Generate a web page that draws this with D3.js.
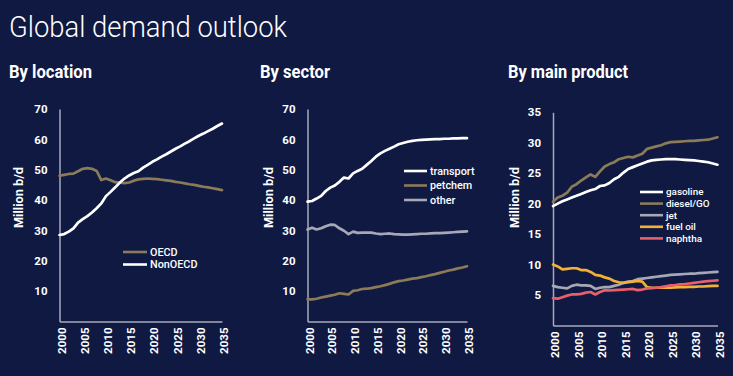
<!DOCTYPE html>
<html>
<head>
<meta charset="utf-8">
<script src="https://cdn.jsdelivr.net/npm/d3@7"></script>
<style>
  html, body { margin: 0; padding: 0; background: #0f1942; }
  svg { display: block; }
  text { font-family: Roboto, "Noto Sans", sans-serif; fill: #ffffff; }
</style>
</head>
<body>
<svg id="chart" width="733" height="376"></svg>
<script>
const years = d3.range(2000, 2036);
const xTickYears = [2000, 2005, 2010, 2015, 2020, 2025, 2030, 2035];

// By location
const oecd = [48.0,48.3,48.6,48.7,49.5,50.3,50.5,50.3,49.6,46.6,47.1,46.5,45.9,45.7,45.6,45.8,46.4,46.8,47.0,47.1,47.0,46.9,46.7,46.5,46.3,46.0,45.8,45.5,45.2,45.0,44.7,44.4,44.2,43.9,43.6,43.3];
const nonOecd = [28.5,28.8,29.6,30.7,32.6,33.7,34.7,35.9,37.3,38.9,41.3,42.7,44.2,45.8,47.1,48.1,48.9,49.5,50.7,51.6,52.6,53.4,54.3,55.1,56.0,56.9,57.7,58.6,59.4,60.3,61.2,61.9,62.7,63.5,64.4,65.2];

// By sector
const transport = [39.5,39.7,40.5,41.4,43.0,44.1,44.8,46.0,47.4,47.1,48.8,49.6,50.3,51.6,52.9,54.3,55.4,56.2,56.9,57.6,58.4,58.8,59.2,59.5,59.7,59.8,59.9,60.0,60.1,60.1,60.2,60.2,60.3,60.3,60.4,60.4];
const petchem = [7.3,7.3,7.5,7.9,8.2,8.5,8.8,9.3,9.1,8.9,10.1,10.3,10.7,10.8,11.0,11.3,11.6,12.0,12.4,12.9,13.3,13.5,13.8,14.1,14.3,14.6,14.9,15.3,15.6,16.0,16.4,16.8,17.1,17.5,17.8,18.2];
const other = [30.3,30.9,30.3,30.7,31.4,31.9,31.8,30.7,29.9,28.8,29.6,29.2,29.3,29.3,29.3,29.0,28.8,28.9,29.0,28.8,28.7,28.6,28.6,28.7,28.8,28.9,28.9,29.0,29.1,29.1,29.2,29.3,29.4,29.5,29.6,29.7];

// By main product
const gasoline = [19.6,20.0,20.4,20.7,21.0,21.3,21.6,21.9,22.2,22.4,22.9,23.0,23.4,24.0,24.4,25.1,25.7,26.0,26.3,26.6,26.9,27.1,27.2,27.25,27.3,27.3,27.3,27.25,27.2,27.15,27.1,27.0,26.9,26.8,26.6,26.4];
const diesel = [20.3,21.0,21.3,21.8,22.8,23.2,23.8,24.3,24.8,24.4,25.3,26.1,26.5,26.8,27.3,27.5,27.7,27.6,27.9,28.2,29.0,29.2,29.4,29.6,29.9,30.1,30.15,30.2,30.25,30.3,30.3,30.4,30.45,30.5,30.7,30.9];
const jet = [6.5,6.3,6.2,6.1,6.5,6.7,6.6,6.6,6.5,6.0,6.2,6.3,6.3,6.5,6.7,7.0,7.2,7.3,7.6,7.7,7.8,7.9,8.0,8.1,8.2,8.3,8.35,8.4,8.45,8.5,8.5,8.6,8.65,8.7,8.75,8.8];
const fuelOil = [10.0,9.7,9.2,9.3,9.4,9.4,9.1,9.1,8.8,8.3,8.2,7.9,7.7,7.3,7.1,7.0,7.1,7.2,7.3,7.2,6.3,6.2,6.2,6.2,6.2,6.2,6.25,6.3,6.3,6.35,6.35,6.4,6.4,6.45,6.5,6.5];
const naphtha = [4.5,4.4,4.65,4.9,5.1,5.1,5.2,5.4,5.5,5.1,5.5,5.8,5.75,5.8,5.85,5.9,5.95,6.0,5.8,5.9,6.1,6.15,6.2,6.3,6.45,6.6,6.65,6.75,6.8,6.9,7.0,7.1,7.2,7.3,7.35,7.4];

const titleText = "Global demand outlook";
const panelTitles = ["By location", "By sector", "By main product"];
const yAxisTitle = "Million b/d";
const yTicks1 = [10,20,30,40,50,60,70];
const yTicks3 = [5,10,15,20,25,30,35];

const C = { white: "#ffffff", brown: "#8c7b58", grey: "#a6a8b6", orange: "#f2b134", red: "#e8606b", axis: "#a9abbb" };

const panels = [
  { title: panelTitles[0], titleX: 9, titleLen: 83,
    x0: 59.5, x1: 222, yTop: 109, yBot: 321.5, ymax: 70, ticks: yTicks1, ylabX: 22.5,
    series: [
      { name: "OECD", values: oecd, color: C.brown },
      { name: "NonOECD", values: nonOecd, color: C.white }
    ],
    legend: { x: 123, y: 252, step: 12.5, len: 24, fs: 10.8, order: [0,1] } },
  { title: panelTitles[1], titleX: 260, titleLen: 70,
    x0: 307.5, x1: 467, yTop: 109, yBot: 321.5, ymax: 70, ticks: yTicks1, ylabX: 272.5,
    series: [
      { name: "petchem", values: petchem, color: C.brown },
      { name: "other", values: other, color: C.grey },
      { name: "transport", values: transport, color: C.white }
    ],
    legend: { x: 404, y: 171, step: 14.5, len: 23, fs: 10.8, order: [2,0,1] } },
  { title: panelTitles[2], titleX: 508, titleLen: 120,
    x0: 553, x1: 717.5, yTop: 112.3, yBot: 325.5, ymax: 35, ticks: yTicks3, ylabX: 519,
    series: [
      { name: "jet", values: jet, color: C.grey },
      { name: "fuel oil", values: fuelOil, color: C.orange },
      { name: "naphtha", values: naphtha, color: C.red },
      { name: "diesel/GO", values: diesel, color: C.brown },
      { name: "gasoline", values: gasoline, color: C.white }
    ],
    legend: { x: 640, y: 192, step: 11.6, len: 23, fs: 9.9, order: [4,3,0,1,2] } }
];

const svg = d3.select("#chart");
svg.append("rect").attr("width", 733).attr("height", 376).attr("fill", "#0f1942");

svg.append("text").attr("x", 9).attr("y", 36.5)
  .attr("font-size", 29).attr("font-weight", 300)
  .attr("textLength", 278).attr("lengthAdjust", "spacingAndGlyphs")
  .text(titleText);

panels.forEach(p => {
  svg.append("text").attr("x", p.titleX).attr("y", 78.3)
    .attr("font-size", 18.5).attr("font-weight", 700)
    .attr("textLength", p.titleLen).attr("lengthAdjust", "spacingAndGlyphs")
    .text(p.title);

  const x = d3.scaleLinear().domain([2000, 2035]).range([p.x0, p.x1]);
  const y = d3.scaleLinear().domain([0, p.ymax]).range([p.yBot, p.yTop]);

  const g = svg.append("g");

  // y axis
  const ya = g.append("g").attr("transform", `translate(${p.x0},0)`)
    .call(d3.axisLeft(y).tickValues(p.ticks).tickSize(0).tickPadding(12).tickFormat(d3.format("d")));
  ya.select(".domain").attr("stroke", C.axis).attr("stroke-width", 1.5);
  ya.selectAll("text").attr("font-size", 11.5).attr("font-weight", 700)
    .attr("fill", "#fff").style("font-family", "Roboto, sans-serif");

  // x axis
  const xa = g.append("g").attr("transform", `translate(0,${p.yBot})`)
    .call(d3.axisBottom(x).tickValues(xTickYears).tickSize(0).tickFormat(d3.format("d")));
  xa.select(".domain").attr("stroke", C.axis).attr("stroke-width", 1.5);
  xa.selectAll("text")
    .attr("font-size", 11.5).attr("font-weight", 700).attr("fill", "#fff")
    .style("font-family", "Roboto, sans-serif")
    .attr("text-anchor", "end")
    .attr("transform", "rotate(-90)")
    .attr("x", -6).attr("y", 1.5).attr("dy", "0.35em");

  // y axis title
  g.append("text")
    .attr("transform", `translate(${p.ylabX},197.5) rotate(-90)`)
    .attr("text-anchor", "middle")
    .attr("font-size", 13.5).attr("font-weight", 700)
    .attr("textLength", 61).attr("lengthAdjust", "spacingAndGlyphs")
    .text(yAxisTitle);

  const line = d3.line().x((d, i) => x(years[i])).y(d => y(d)).curve(d3.curveLinear);

  p.series.forEach(s => {
    g.append("path").datum(s.values)
      .attr("d", line)
      .attr("fill", "none")
      .attr("stroke", s.color)
      .attr("stroke-width", 2.7)
      .attr("stroke-linejoin", "round")
      .attr("stroke-linecap", "round");
  });

  // legend
  const L = p.legend;
  L.order.forEach((si, k) => {
    const s = p.series[si];
    const ly = L.y + k * L.step;
    g.append("line").attr("x1", L.x).attr("x2", L.x + L.len)
      .attr("y1", ly).attr("y2", ly)
      .attr("stroke", s.color).attr("stroke-width", 2.6);
    g.append("text").attr("x", L.x + L.len + 3).attr("y", ly).attr("dy", "0.35em")
      .attr("font-size", L.fs).attr("font-weight", 500)
      .text(s.name);
  });
});
</script>
</body>
</html>
